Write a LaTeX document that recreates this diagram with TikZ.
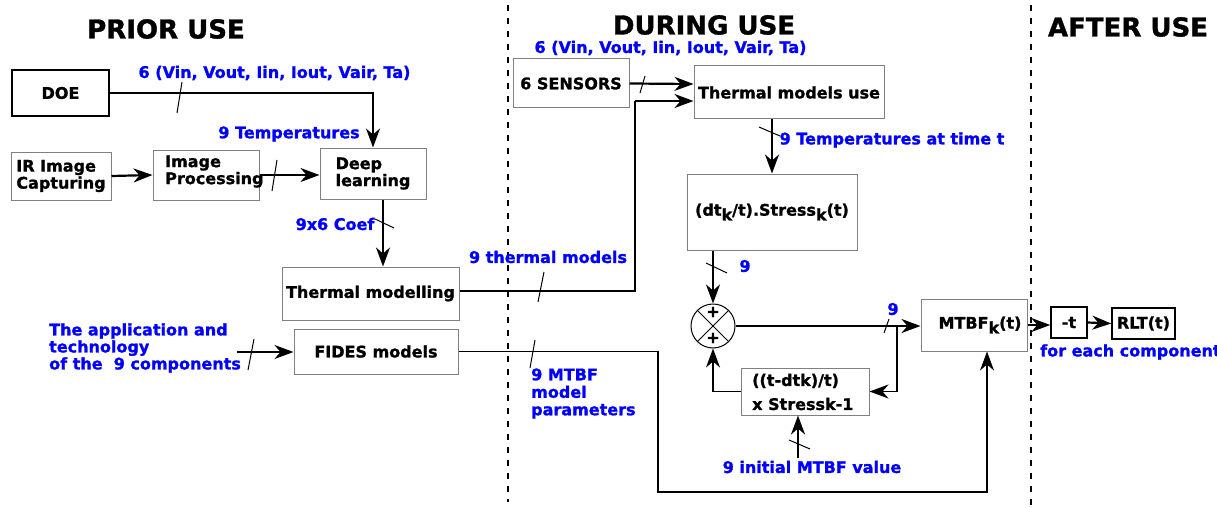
\documentclass[tikz,border=0pt]{standalone}
\usepackage{fontspec}
\setmainfont{DejaVu Sans}[BoldFeatures={FakeBold=1.2}]
\usetikzlibrary{arrows.meta,calc}
\definecolor{boxgray}{RGB}{128,128,128}
\definecolor{lblue}{RGB}{0,0,255}
\newcommand{\ksub}{\raisebox{-0.3em}{k}}
\tikzset{
  every node/.style={font=\bfseries\fontsize{16}{17}\selectfont, inner sep=0pt},
  box/.style={draw=boxgray, line width=1pt, align=center},
  kbox/.style={draw=black, line width=1.5pt, align=center},
  title/.style={font=\bfseries\fontsize{26}{30}\selectfont},
  lbl/.style={text=lblue},
  arr/.style={-{Stealth[length=19pt,width=14pt,inset=6pt]}, line width=2.2pt},
  thinarr/.style={-{Stealth[length=19pt,width=14pt,inset=6pt]}, line width=1.5pt},
  slash/.style={line width=1pt},
  sep/.style={dash pattern=on 6pt off 7pt, line width=1.4pt}
}
\begin{document}
\begin{tikzpicture}[x=1pt,y=-1pt]
\fill[white] (0,0) rectangle (1217,508);
\useasboundingbox (0,0) rectangle (1217,508);

% separators
\draw[sep] (508,5) -- (508,502);
\draw[sep] (1031,5) -- (1031,508);

% titles
\node[title] (tprior) at (166,29) {PRIOR USE};
\node[title] (tduring) at (704,25) {DURING USE};
\node[title] (tafter) at (1128,27) {AFTER USE};

% boxes
\node[kbox, line width=1.2pt, minimum width=97pt, minimum height=46pt] (doe) at (60.5,93) {DOE};
\node[box, minimum width=100pt, minimum height=48pt, align=left] (ir) at (61,176) {IR Image\\Capturing};
\node[box, minimum width=106pt, minimum height=50pt] (ip) at (206,175) {};
\node[anchor=west, align=left] (iptxt) at (165,171.5) {Image\\Processing};
\node[box, minimum width=106pt, minimum height=51pt, align=left] (dl) at (373,173.5) {Deep\\learning};
\node[box, minimum width=177pt, minimum height=53pt] (tm) at (370.5,293.5) {Thermal modelling};
\node[box, minimum width=164pt, minimum height=45pt] (fides) at (376,351.5) {FIDES models};

\node[box, minimum width=116pt, minimum height=49pt] (sens) at (571,83.5) {6 SENSORS};
\node[box, minimum width=190pt, minimum height=53pt] (tmu) at (789,92.5) {Thermal models use};
\node[box, minimum width=170pt, minimum height=76pt] (stress) at (772,212) {(dt\ksub/t).Stress\ksub(t)};
\node[box, minimum width=128pt, minimum height=47pt] (fb) at (805,391.5) {};
\node[anchor=west, align=left, font=\bfseries\fontsize{16}{24}\selectfont] (fbtxt) at (752,392) {((t-dtk)/t)\\x Stressk-1};
\node[box, minimum width=106pt, minimum height=52pt] (mtbf) at (974,325) {\hspace{12pt}MTBF\ksub(t)};
\node[kbox, minimum width=36pt, minimum height=31pt] (mt) at (1069,322.5) {-t};
\node[kbox, minimum width=63pt, minimum height=31pt] (rlt) at (1143.5,323.5) {RLT(t)};

% summing junction
\node[draw=black, line width=1pt, circle, minimum size=44pt] (sum) at (713,326) {};
\draw[line width=0.8pt] (sum.north west) -- (sum.south east);
\draw[line width=0.8pt] (sum.north east) -- (sum.south west);
\node (plus1) at (713,312) {+};
\node (plus2) at (713,338) {+};

% blue labels
\node[lbl] (l6a) at (274.5,73) {6 (Vin, Vout, Iin, Iout, Vair, Ta)};
\node[lbl] (l9t) at (289,134) {9 Temperatures};
\node[lbl] (l96) at (335,224) {9x6 Coef};
\node[lbl] (l9tm) at (548,257) {9 thermal models};
\node[lbl, anchor=west, align=left] (lapp) at (49,348) {The application and\\technology\\of the\ \ 9 components};
\node[lbl, anchor=west, align=left, font=\bfseries\fontsize{16}{17.5}\selectfont] (lmtbf) at (531,393.5) {9 MTBF\\model\\parameters};
\node[lbl] (l6b) at (670.5,48) {6 (Vin, Vout, Iin, Iout, Vair, Ta)};
\node[lbl] (l9tt) at (892,140) {9 Temperatures at time t};
\node[lbl] (l9s) at (745,266) {9};
\node[lbl] (l9m) at (893,309) {9};
\node[lbl] (l9i) at (812,467) {9 initial MTBF value};
\node[lbl, anchor=west] (lfor) at (1040,352) {for each component};

% coordinates
\coordinate (c635) at (635,0);
\coordinate (c658) at (658,492);
\coordinate (appin) at (237,352);
\coordinate (initin) at (798,458);
\coordinate (split) at (897,326);
\coordinate (tmout) at ([yshift=2.5pt]tm.east);
\coordinate (tmuin2) at ([yshift=-8.5pt]tmu.west);
\coordinate (tmuin1) at ([yshift=8.5pt]tmu.west);

% connectors prior use
\draw[arr, line width=1.5pt] (doe.east) -| (dl.north);
\draw[slash] (182,82) -- (177,113);
\draw[arr] (ir.east) -- (ip.west);
\draw[arr] (ip.east) -- (ip.east -| dl.west);
\draw[slash] (277,160) -- (272,191);
\draw[arr] ([xshift=10pt]dl.south) -- ([xshift=12.5pt]tm.north);
\draw[slash] (375,219) -- (394,228);
\draw[arr] (appin) -- (appin -| fides.west);
\draw[slash] (254,339) -- (248,370);

% connectors during use
\draw[line width=1.5pt] (tmout) -| (c635 |- tmuin2);
\draw[arr] (c635 |- tmuin2) -- (tmuin2);
\draw[slash] (544,272) -- (538,302);
\draw[arr] (sens.east) -- (tmuin1);
\draw[slash] (645,76) -- (640,93);
\draw[arr] (stress.north |- tmu.south) -- (stress.north);
\draw[slash] (759,127) -- (780,136);
\draw[arr] (sum.north |- stress.south) -- (sum.north);
\draw[slash] (706,263) -- (727,273);
\draw[arr] (sum.east) -- (sum.east -| mtbf.west);
\draw[slash] (889,319) -- (884,333);
\draw[thinarr] (split) |- (fb.east);
\draw[thinarr] (fb.west) -| (sum.south);
\draw[arr] (initin) -- (initin |- fb.south);
\draw[slash] (789,440) -- (810,449);
\draw[thinarr] (fides.east) -| (c658) -| ([xshift=13pt]mtbf.south);
\draw[slash] (535,340) -- (530,368);

% after use
\draw[arr] (mtbf.east) -- (mtbf.east -| mt.west);
\draw[arr] (mt.east) -- (rlt.west);
\end{tikzpicture}
\end{document}
